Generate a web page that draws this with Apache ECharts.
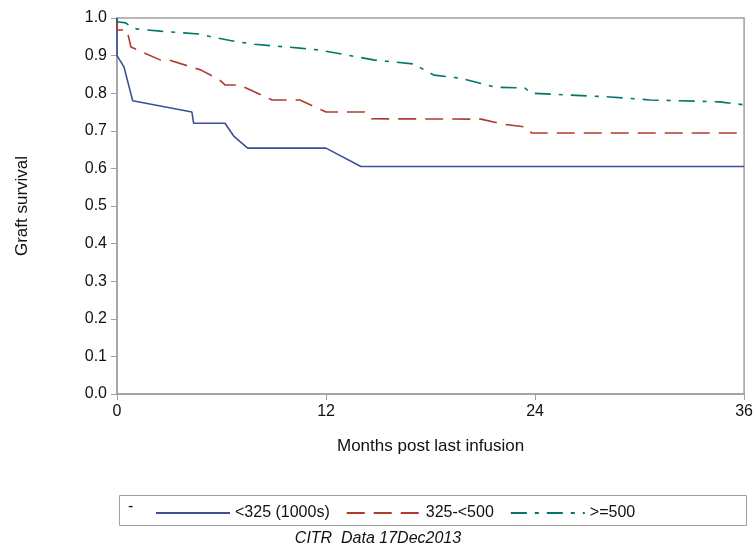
<!DOCTYPE html><html><head><meta charset="utf-8">
<script src="https://cdn.jsdelivr.net/npm/echarts@6/dist/echarts.min.js"></script>
<style>html,body{margin:0;padding:0;background:#fff}#c{width:756px;height:557px}</style></head><body><div id="c"></div>
<script>
const xTicks=[0,12,24,36];
const seriesNames=['<325 (1000s)','325-<500','>=500'];
const low=[[0,1.0],[0,0.90],[0.4,0.87],[0.9,0.78],[4.3,0.75],[4.4,0.72],[6.2,0.72],[6.7,0.686],[7.5,0.654],[12.0,0.654],[14,0.605],[36,0.605]];
const mid=[[0,1.0],[0,0.968],[0.57,0.968],[0.8,0.923],[2.5,0.888],[3,0.888],[4.8,0.862],[5.9,0.835],[6.2,0.822],[7,0.822],[7.6,0.81],[8.9,0.782],[10.5,0.782],[11.5,0.76],[12.0,0.75],[14.2,0.75],[14.6,0.732],[20.9,0.731],[22.1,0.718],[23.5,0.71],[23.8,0.694],[36,0.694]];
const high=[[0,1.0],[0,0.99],[0.5,0.987],[0.9,0.973],[1.3,0.97],[2.5,0.965],[4.8,0.957],[5.4,0.95],[6.5,0.94],[7.9,0.93],[10.5,0.92],[11.6,0.915],[14.8,0.888],[17,0.878],[18.2,0.848],[19.7,0.84],[21.7,0.816],[23.4,0.814],[23.8,0.80],[28.3,0.79],[30.6,0.782],[34.6,0.777],[36,0.769]];
const colors=['#3d4f9b','#b03a2e','#00776a'];
const dashes=['solid',[18,9],[16,8,4,8]];
const ch=echarts.init(document.getElementById('c'));
const F='Arial, "Liberation Sans", sans-serif';
ch.setOption({
 animation:false,
 grid:{left:117,right:11,top:18,bottom:163,show:true,borderColor:'#a0a0a0',borderWidth:1.5},
 xAxis:{type:'value',min:0,max:36,interval:12,name:'Months post last infusion',nameLocation:'middle',nameGap:44,
  nameTextStyle:{fontSize:17,color:'#111',fontFamily:F},
  axisLine:{lineStyle:{color:'#a0a0a0',width:1.5}},axisTick:{length:6,lineStyle:{color:'#a0a0a0'}},
  axisLabel:{fontSize:16,color:'#111',margin:10,fontFamily:F},splitLine:{show:false}},
 yAxis:{type:'value',min:0,max:1,interval:0.1,name:'Graft survival',nameLocation:'middle',nameGap:86,
  nameTextStyle:{fontSize:17,color:'#111',fontFamily:F},
  axisLine:{show:true,lineStyle:{color:'#a0a0a0',width:1.5}},axisTick:{show:true,length:6,lineStyle:{color:'#a0a0a0'}},
  axisLabel:{fontSize:16,color:'#111',margin:10,fontFamily:F,formatter:v=>v.toFixed(1)},splitLine:{show:false}},
 legend:{left:150,top:500,itemWidth:74,itemHeight:14,itemGap:16,
  itemStyle:{color:'rgba(0,0,0,0)',borderWidth:0},
  textStyle:{fontSize:16,color:'#111',fontFamily:F},data:seriesNames},
 graphic:[
  {type:'rect',left:117,top:493,shape:{width:627,height:30},style:{fill:'none',stroke:'#a0a0a0',lineWidth:1}},
  {type:'text',left:128,top:499,style:{text:'-',fontSize:16,fill:'#111',fontFamily:F}},
  {type:'text',left:'center',top:531,style:{text:'CITR  Data 17Dec2013',fontSize:16,fontStyle:'italic',fill:'#111',fontFamily:F}}
 ],
 series:[low,mid,high].map((d,i)=>({name:seriesNames[i],type:'line',data:d,symbol:'none',
  lineStyle:{color:colors[i],width:1.6,type:dashes[i]},itemStyle:{color:colors[i]}}))
});
</script></body></html>
